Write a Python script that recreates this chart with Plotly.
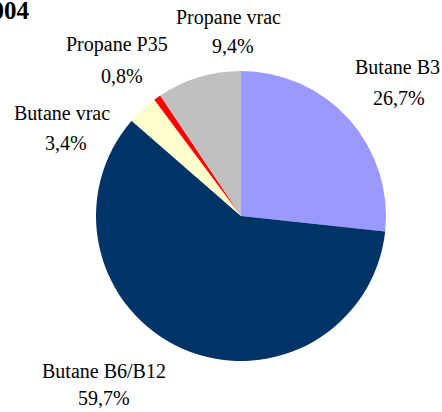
import plotly.graph_objects as go

categories = ["Butane B3", "Butane B6/B12", "Butane vrac", "Propane P35", "Propane vrac"]
values = [26.7, 59.7, 3.4, 0.8, 9.4]
value_labels = ["26,7%", "59,7%", "3,4%", "0,8%", "9,4%"]
colors = ["#9999FF", "#003366", "#FFFFCC", "#FF0000", "#C0C0C0"]
title_text = "2004"

W, H = 442, 412
# label positions in pixels (name line center, value line center)
label_pos = {
    "Butane B3": ((397, 67), (399, 98)),
    "Butane B6/B12": ((104, 371), (104, 398)),
    "Butane vrac": ((62, 113), (66, 143)),
    "Propane P35": ((117, 45), (122, 76)),
    "Propane vrac": ((228, 18), (233, 46)),
}

fig = go.Figure(go.Pie(
    labels=categories,
    values=values,
    sort=False,
    direction="clockwise",
    rotation=0,
    marker=dict(colors=colors, line=dict(width=0)),
    textinfo="none",
    hoverinfo="label+percent",
    showlegend=False,
    domain=dict(x=[96 / W, 386 / W], y=[1 - 361 / H, 1 - 71 / H]),
))

FAM = "Times New Roman, Liberation Serif, serif"
font = dict(family=FAM, size=20, color="black")
annotations = []
for cat, vl in zip(categories, value_labels):
    (nx, ny), (vx, vy) = label_pos[cat]
    annotations.append(dict(text=cat, x=nx / W, y=1 - ny / H, xref="paper", yref="paper",
                            showarrow=False, xanchor="center", yanchor="middle", font=font))
    annotations.append(dict(text=vl, x=vx / W, y=1 - vy / H, xref="paper", yref="paper",
                            showarrow=False, xanchor="center", yanchor="middle", font=font))

annotations.append(dict(text="<b>" + title_text + "</b>", x=32 / W, y=1 - 11 / H,
                        xref="paper", yref="paper", showarrow=False,
                        xanchor="right", yanchor="middle",
                        font=dict(family=FAM, size=25, color="black")))

fig.update_layout(
    width=W, height=H,
    margin=dict(l=0, r=0, t=0, b=0),
    paper_bgcolor="white", plot_bgcolor="white",
    annotations=annotations,
)

fig.write_html("out.html", config={"displayModeBar": False},
               post_script="document.body.style.margin='0';document.body.style.padding='0';")
